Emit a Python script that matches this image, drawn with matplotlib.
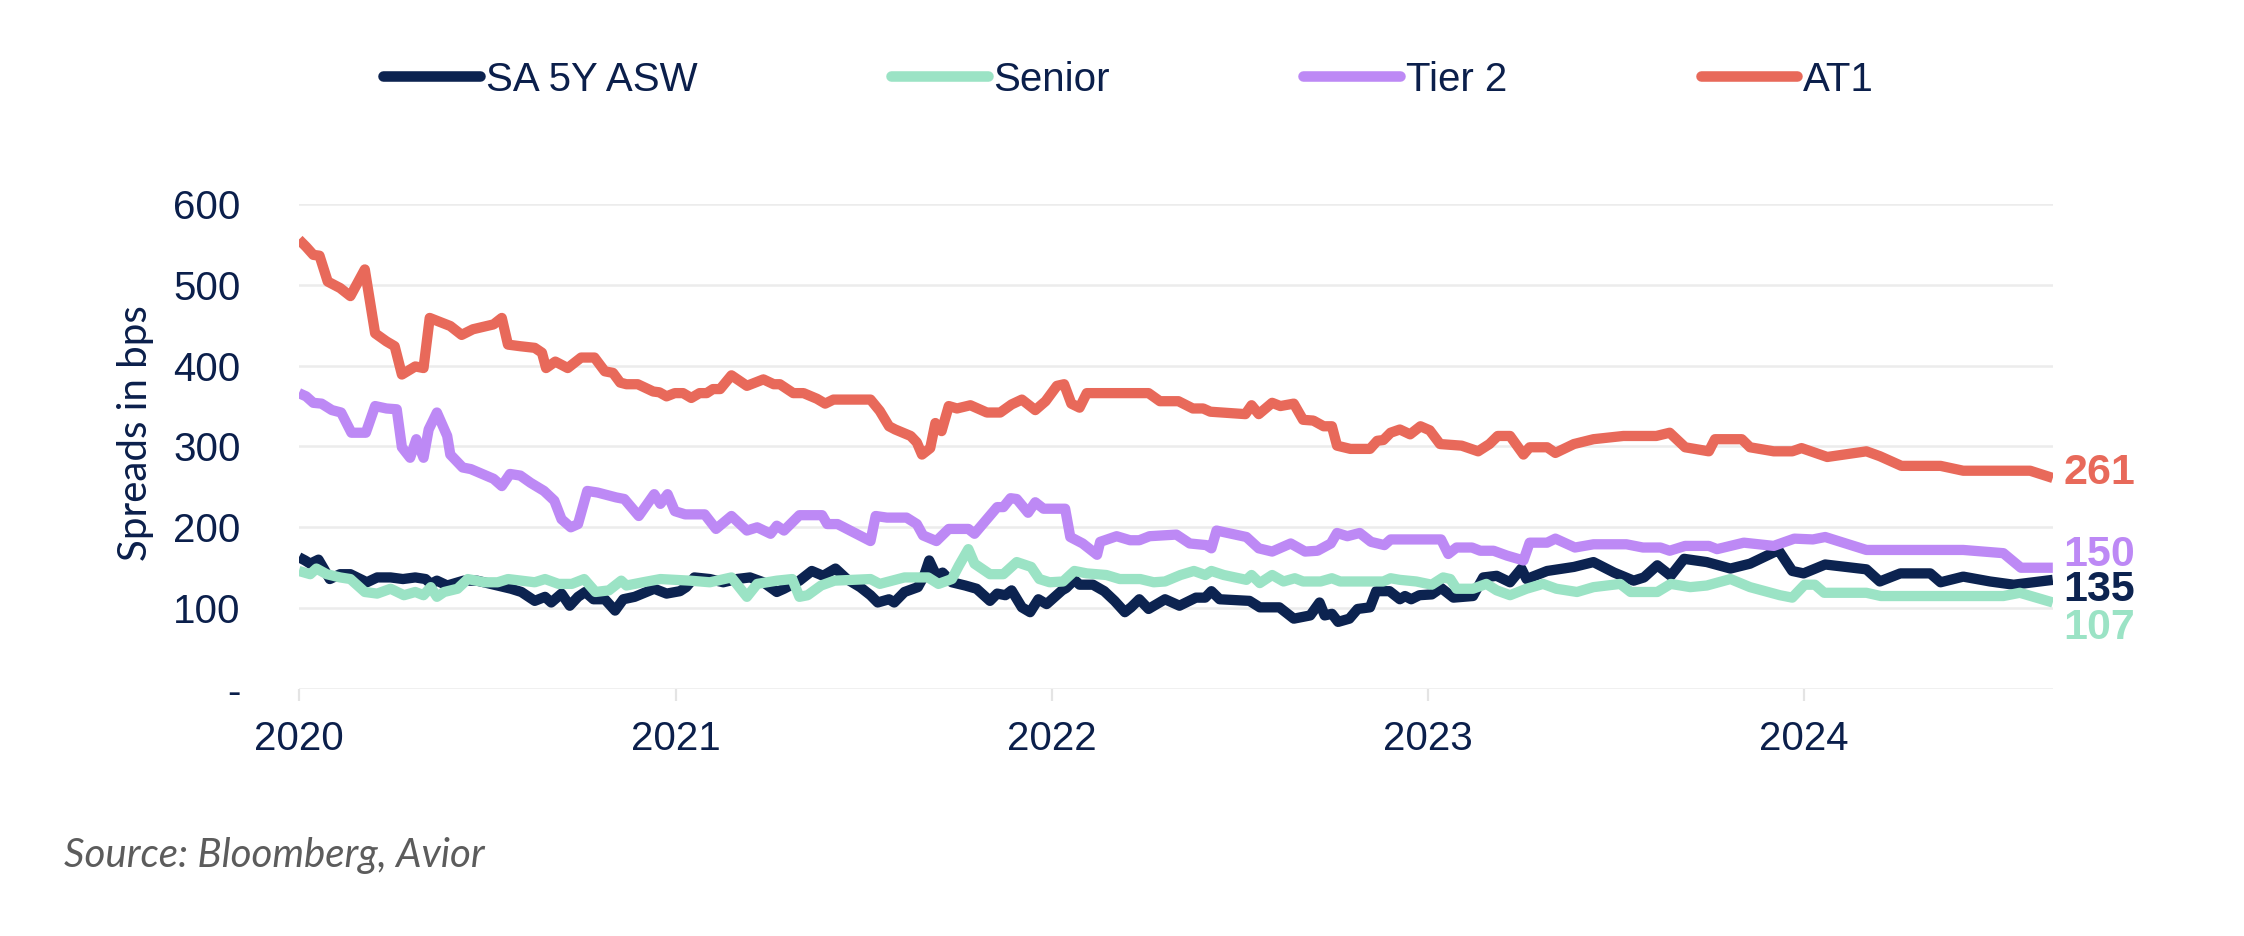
import pandas as pd
import matplotlib
matplotlib.use("Agg")
import matplotlib.pyplot as plt
import matplotlib.dates as mdates
import matplotlib.transforms as mtransforms

# ---- data (bps) ----
asw_dates = [
    "2020-01-01", "2020-01-07", "2020-01-12", "2020-01-20", "2020-01-25", "2020-01-31", "2020-02-10",
    "2020-02-20", "2020-03-07", "2020-03-17", "2020-03-30", "2020-04-11", "2020-04-23", "2020-05-03",
    "2020-05-08", "2020-05-14", "2020-05-24", "2020-06-09", "2020-06-22", "2020-07-12", "2020-07-25",
    "2020-08-04", "2020-08-17", "2020-08-27", "2020-09-02", "2020-09-12", "2020-09-20", "2020-09-28",
    "2020-10-05", "2020-10-13", "2020-10-24", "2020-11-03", "2020-11-11", "2020-11-22", "2020-12-11",
    "2020-12-23", "2021-01-05", "2021-01-11", "2021-01-19", "2021-02-03", "2021-02-16", "2021-03-01",
    "2021-03-14", "2021-03-27", "2021-04-09", "2021-04-16", "2021-05-01", "2021-05-13", "2021-05-24",
    "2021-06-05", "2021-06-16", "2021-06-29", "2021-07-09", "2021-07-16", "2021-07-27", "2021-08-01",
    "2021-08-11", "2021-08-24", "2021-08-30", "2021-09-04", "2021-09-11", "2021-09-17", "2021-09-26",
    "2021-10-09", "2021-10-20", "2021-11-02", "2021-11-09", "2021-11-17", "2021-11-23", "2021-12-03",
    "2021-12-11", "2021-12-19", "2021-12-27", "2022-01-11", "2022-01-15", "2022-01-23", "2022-01-28",
    "2022-02-10", "2022-02-21", "2022-03-03", "2022-03-13", "2022-03-19", "2022-03-27", "2022-04-05",
    "2022-04-21", "2022-05-05", "2022-05-21", "2022-05-30", "2022-06-05", "2022-06-13", "2022-07-12",
    "2022-07-22", "2022-08-10", "2022-08-24", "2022-09-09", "2022-09-18", "2022-09-23", "2022-09-30",
    "2022-10-06", "2022-10-17", "2022-10-25", "2022-11-06", "2022-11-12", "2022-11-25", "2022-12-05",
    "2022-12-10", "2022-12-16", "2022-12-24", "2023-01-05", "2023-01-14", "2023-01-26", "2023-02-14",
    "2023-02-24", "2023-03-09", "2023-03-22", "2023-04-02", "2023-04-07", "2023-04-27", "2023-05-23",
    "2023-06-11", "2023-07-01", "2023-07-20", "2023-07-30", "2023-08-12", "2023-08-25", "2023-09-07",
    "2023-09-29", "2023-10-22", "2023-11-10", "2023-12-03", "2023-12-08", "2023-12-21", "2024-01-01",
    "2024-01-22", "2024-03-02", "2024-03-15", "2024-04-04", "2024-05-03", "2024-05-13", "2024-06-04",
    "2024-06-30", "2024-07-23", "2024-08-30"]
asw_vals = [
    163, 159, 155, 160, 149, 136, 142, 142, 132, 138, 138, 136, 138, 136, 130, 134, 128, 134, 134, 128,
    124, 120, 109, 114, 107, 118, 103, 114, 120, 111, 111, 97, 111, 114, 124, 118, 121, 126, 138, 136,
    132, 136, 138, 132, 120, 124, 134, 146, 140, 149, 136, 126, 116, 107, 111, 107, 120, 126, 140, 159,
    140, 144, 132, 128, 124, 109, 118, 116, 122, 101, 95, 111, 105, 122, 125, 135, 129, 129, 121, 109,
    95, 101, 111, 99, 111, 103, 113, 113, 121, 111, 109, 101, 101, 87, 91, 107, 91, 93, 83, 87,
    99, 101, 121, 121, 111, 115, 111, 116, 117, 125, 113, 115, 138, 140, 132, 149, 136, 146, 151, 157,
    144, 134, 138, 153, 140, 161, 157, 149, 155, 169, 171, 146, 143, 154, 148, 133, 143, 143, 132, 139,
    133, 129, 135]

senior_dates = [
    "2020-01-01", "2020-01-12", "2020-01-18", "2020-01-28", "2020-02-10", "2020-02-20", "2020-03-05",
    "2020-03-17", "2020-03-30", "2020-04-12", "2020-04-23", "2020-05-01", "2020-05-08", "2020-05-14",
    "2020-05-21", "2020-06-03", "2020-06-13", "2020-06-29", "2020-07-12", "2020-07-22", "2020-08-04",
    "2020-08-17", "2020-08-27", "2020-09-09", "2020-09-22", "2020-10-04", "2020-10-15", "2020-10-28",
    "2020-11-09", "2020-11-14", "2020-11-30", "2020-12-17", "2021-01-15", "2021-02-03", "2021-02-24",
    "2021-03-11", "2021-03-21", "2021-04-09", "2021-04-24", "2021-05-01", "2021-05-09", "2021-05-22",
    "2021-06-04", "2021-07-09", "2021-07-18", "2021-08-11", "2021-09-03", "2021-09-13", "2021-09-26",
    "2021-10-03", "2021-10-12", "2021-10-18", "2021-11-02", "2021-11-15", "2021-11-28", "2021-12-12",
    "2021-12-20", "2021-12-30", "2022-01-12", "2022-01-23", "2022-02-04", "2022-02-23", "2022-03-08",
    "2022-03-28", "2022-04-10", "2022-04-21", "2022-05-06", "2022-05-19", "2022-05-30", "2022-06-05",
    "2022-06-17", "2022-07-09", "2022-07-14", "2022-07-22", "2022-08-03", "2022-08-14", "2022-08-25",
    "2022-09-02", "2022-09-19", "2022-09-30", "2022-10-08", "2022-11-19", "2022-11-26", "2022-12-05",
    "2022-12-21", "2023-01-05", "2023-01-16", "2023-01-23", "2023-01-29", "2023-02-14", "2023-02-27",
    "2023-03-09", "2023-03-22", "2023-04-07", "2023-04-23", "2023-05-06", "2023-05-26", "2023-06-11",
    "2023-07-07", "2023-07-17", "2023-08-12", "2023-08-25", "2023-09-13", "2023-09-29", "2023-10-22",
    "2023-11-10", "2023-12-09", "2023-12-21", "2024-01-02", "2024-01-12", "2024-01-21", "2024-03-02",
    "2024-03-16", "2024-07-13", "2024-07-29", "2024-08-30"]
senior_vals = [
    146, 142, 149, 142, 138, 136, 120, 118, 124, 116, 120, 116, 126, 114, 120, 124, 136, 132, 132, 136,
    134, 132, 136, 130, 130, 136, 120, 122, 134, 128, 132, 136, 134, 132, 138, 114, 130, 134, 136, 114,
    116, 128, 134, 136, 130, 138, 138, 130, 136, 153, 173, 155, 142, 142, 157, 151, 136, 132, 133, 146,
    143, 141, 136, 136, 132, 133, 141, 146, 141, 146, 141, 135, 141, 131, 141, 133, 137, 133, 133, 137,
    133, 133, 137, 135, 133, 129, 138, 136, 124, 124, 130, 122, 116, 124, 130, 124, 120, 126, 130, 120,
    120, 130, 126, 128, 136, 126, 116, 113, 129, 129, 119, 119, 115, 115, 119, 107]

tier2_dates = [
    "2020-01-01", "2020-01-08", "2020-01-15", "2020-01-23", "2020-02-02", "2020-02-11", "2020-02-21",
    "2020-03-06", "2020-03-15", "2020-03-26", "2020-04-05", "2020-04-10", "2020-04-18", "2020-04-24",
    "2020-05-01", "2020-05-06", "2020-05-14", "2020-05-24", "2020-05-27", "2020-06-08", "2020-06-16",
    "2020-07-08", "2020-07-16", "2020-07-24", "2020-08-03", "2020-08-13", "2020-08-26", "2020-09-05",
    "2020-09-12", "2020-09-21", "2020-09-28", "2020-10-07", "2020-10-17", "2020-11-04", "2020-11-12",
    "2020-11-26", "2020-12-11", "2020-12-17", "2020-12-24", "2020-12-31", "2021-01-10", "2021-01-29",
    "2021-02-09", "2021-02-24", "2021-03-11", "2021-03-21", "2021-04-03", "2021-04-09", "2021-04-16",
    "2021-05-01", "2021-05-23", "2021-05-28", "2021-06-07", "2021-07-09", "2021-07-14", "2021-07-25",
    "2021-08-13", "2021-08-23", "2021-08-29", "2021-09-11", "2021-09-23", "2021-10-12", "2021-10-18",
    "2021-11-09", "2021-11-15", "2021-11-22", "2021-11-28", "2021-12-09", "2021-12-16", "2021-12-24",
    "2022-01-14", "2022-01-19", "2022-01-31", "2022-02-14", "2022-02-17", "2022-03-05", "2022-03-18",
    "2022-03-27", "2022-04-06", "2022-05-02", "2022-05-15", "2022-05-31", "2022-06-05", "2022-06-10",
    "2022-07-09", "2022-07-21", "2022-08-03", "2022-08-21", "2022-09-04", "2022-09-16", "2022-09-29",
    "2022-10-05", "2022-10-15", "2022-10-27", "2022-11-07", "2022-11-20", "2022-11-26", "2023-01-14",
    "2023-01-21", "2023-01-29", "2023-02-13", "2023-02-21", "2023-03-06", "2023-03-19", "2023-04-04",
    "2023-04-10", "2023-04-27", "2023-05-05", "2023-05-24", "2023-06-11", "2023-07-13", "2023-07-29",
    "2023-08-15", "2023-08-24", "2023-09-08", "2023-10-01", "2023-10-09", "2023-11-04", "2023-12-03",
    "2023-12-23", "2024-01-10", "2024-01-22", "2024-03-02", "2024-06-04", "2024-07-13", "2024-07-30",
    "2024-08-30"]
tier2_vals = [
    366, 362, 354, 353, 345, 342, 317, 317, 350, 347, 346, 299, 286, 309, 286, 321, 342, 313, 290, 274,
    272, 260, 251, 266, 264, 255, 245, 233, 210, 200, 204, 245, 243, 237, 235, 214, 241, 229, 241, 220,
    216, 216, 198, 214, 196, 200, 192, 202, 196, 215, 215, 204, 204, 183, 214, 212, 212, 204, 190, 183,
    198, 198, 192, 225, 225, 236, 235, 218, 231, 223, 223, 188, 180, 166, 182, 189, 184, 184, 189, 191,
    180, 178, 174, 196, 188, 174, 170, 180, 170, 171, 180, 193, 189, 193, 182, 178, 185, 185, 167, 175,
    175, 171, 171, 165, 159, 181, 181, 186, 175, 179, 179, 175, 175, 171, 177, 177, 173, 181, 177, 186,
    185, 188, 172, 172, 168, 150, 150]

at1_dates = [
    "2020-01-01", "2020-01-08", "2020-01-15", "2020-01-21", "2020-01-29", "2020-02-10", "2020-02-20",
    "2020-03-05", "2020-03-15", "2020-03-26", "2020-04-03", "2020-04-10", "2020-04-23", "2020-05-01",
    "2020-05-07", "2020-05-19", "2020-05-27", "2020-06-07", "2020-06-18", "2020-07-08", "2020-07-16",
    "2020-07-22", "2020-08-03", "2020-08-17", "2020-08-24", "2020-08-28", "2020-09-06", "2020-09-18",
    "2020-10-01", "2020-10-14", "2020-10-24", "2020-11-01", "2020-11-08", "2020-11-14", "2020-11-25",
    "2020-12-10", "2020-12-16", "2020-12-23", "2020-12-31", "2021-01-08", "2021-01-16", "2021-01-24",
    "2021-01-31", "2021-02-06", "2021-02-13", "2021-02-24", "2021-03-11", "2021-03-27", "2021-04-06",
    "2021-04-12", "2021-04-25", "2021-05-05", "2021-05-18", "2021-05-26", "2021-06-03", "2021-07-09",
    "2021-07-18", "2021-07-27", "2021-08-02", "2021-08-17", "2021-08-23", "2021-08-28", "2021-09-05",
    "2021-09-10", "2021-09-16", "2021-09-23", "2021-10-01", "2021-10-14", "2021-10-30", "2021-11-12",
    "2021-11-23", "2021-12-03", "2021-12-16", "2021-12-26", "2022-01-06", "2022-01-13", "2022-01-20",
    "2022-01-28", "2022-02-04", "2022-04-05", "2022-04-16", "2022-05-04", "2022-05-18", "2022-05-28",
    "2022-06-04", "2022-07-08", "2022-07-14", "2022-07-21", "2022-08-03", "2022-08-11", "2022-08-24",
    "2022-09-02", "2022-09-12", "2022-09-22", "2022-09-30", "2022-10-05", "2022-10-18", "2022-11-06",
    "2022-11-13", "2022-11-19", "2022-11-26", "2022-12-05", "2022-12-15", "2022-12-25", "2023-01-03",
    "2023-01-13", "2023-02-03", "2023-02-19", "2023-03-02", "2023-03-10", "2023-03-22", "2023-04-04",
    "2023-04-10", "2023-04-27", "2023-05-05", "2023-05-23", "2023-06-11", "2023-07-10", "2023-08-11",
    "2023-08-24", "2023-09-08", "2023-10-01", "2023-10-07", "2023-11-02", "2023-11-10", "2023-12-03",
    "2023-12-21", "2023-12-30", "2024-01-24", "2024-03-02", "2024-03-15", "2024-04-05", "2024-05-13",
    "2024-06-04", "2024-08-08", "2024-08-30"]
at1_vals = [
    556, 547, 537, 536, 504, 496, 486, 519, 440, 430, 424, 389, 399, 397, 459, 453, 449, 438, 445, 451,
    459, 426, 424, 422, 416, 397, 405, 397, 410, 410, 393, 391, 379, 377, 377, 368, 367, 362, 366, 366,
    360, 366, 366, 371, 371, 388, 375, 383, 377, 377, 366, 366, 359, 353, 358, 358, 344, 325, 321, 313,
    305, 290, 298, 329, 319, 350, 347, 351, 342, 342, 352, 358, 345, 356, 375, 377, 353, 348, 366, 366,
    356, 356, 347, 347, 343, 340, 351, 340, 354, 350, 353, 333, 332, 325, 325, 301, 297, 297, 307, 308,
    317, 321, 315, 325, 320, 303, 301, 294, 303, 313, 313, 290, 299, 299, 292, 303, 309, 313, 313, 317,
    299, 294, 309, 309, 299, 294, 294, 298, 287, 294, 288, 276, 276, 270, 270, 261]

series_names = ["SA 5Y ASW", "Senior", "Tier 2", "AT1"]
series_colors = ["#0c2350", "#9be3c5", "#bd89f5", "#e8695a"]
text_col = "#0b1f4b"

all_dates = [asw_dates, senior_dates, tier2_dates, at1_dates]
all_vals = [asw_vals, senior_vals, tier2_vals, at1_vals]

plt.rcParams["font.family"] = ["Liberation Sans", "DejaVu Sans"]

fig = plt.figure(figsize=(11.22, 4.68), dpi=200)
ax = fig.add_axes([0.1332, 0.2639, 0.7816, 0.5182])

for d, v, name, c in zip(all_dates, all_vals, series_names, series_colors):
    ax.plot(pd.to_datetime(d), v, color=c, lw=3.7, label=name,
            solid_joinstyle="round", solid_capstyle="butt")

ax.set_xlim(pd.Timestamp("2020-01-01"), pd.Timestamp("2024-08-30"))
ax.set_ylim(0, 600)
ax.set_yticks(range(0, 601, 100))
ax.set_yticklabels(["-", "100", "200", "300", "400", "500", "600"])
ax.xaxis.set_major_locator(mdates.YearLocator())
ax.xaxis.set_major_formatter(mdates.DateFormatter("%Y"))

for s in ax.spines.values():
    s.set_visible(False)
ax.set_axisbelow(True)
ax.grid(axis="y", color="#ececec", lw=0.9)
ax.tick_params(axis="y", length=0, pad=21, labelsize=14.5, labelcolor=text_col)
ax.tick_params(axis="x", length=4.3, width=0.8, color="#e4e4e4", pad=7,
               labelsize=14.5, labelcolor=text_col)

# end-of-series value labels
lab_shift = [-13, -32, 16, 6]
trans = mtransforms.blended_transform_factory(ax.transAxes, ax.transData)
for v, c, dy in zip(all_vals, series_colors, lab_shift):
    ax.text(1.006, v[-1] + dy, str(v[-1]), transform=trans, ha="left", va="center",
            fontsize=15.5, fontweight="bold", color=c)

leg = fig.legend(loc="center", bbox_to_anchor=(0.503, 0.915), ncol=4, frameon=False,
                 fontsize=14.5, handlelength=2.4, handletextpad=0.15, columnspacing=4.8)
for t in leg.get_texts():
    t.set_color(text_col)
for ln in leg.get_lines():
    ln.set_solid_capstyle("round")
    ln.set_linewidth(3.8)

fig.text(0.0606, 0.537, "Spreads in bps", rotation=90, ha="center", va="center",
         fontsize=14.5, color=text_col, family=["Lato", "DejaVu Sans"])
fig.text(0.0285, 0.0865, "Source: Bloomberg, Avior", ha="left", va="center",
         fontsize=14.5, style="italic", color="#5c5c5c", family=["Lato", "DejaVu Sans"])

fig.savefig("out.png", dpi=200)
